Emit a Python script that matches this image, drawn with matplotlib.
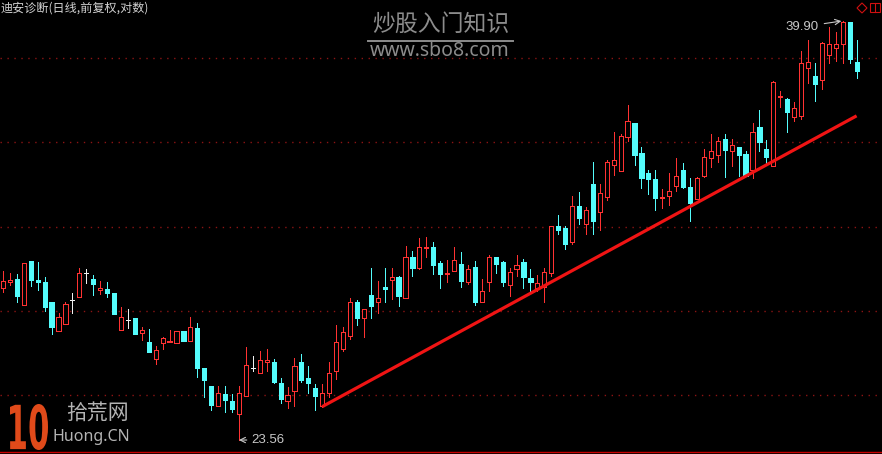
# -*- coding: utf-8 -*-

import matplotlib
matplotlib.use('Agg')
import matplotlib.pyplot as plt
from matplotlib.patches import Rectangle, Polygon
from matplotlib.lines import Line2D
from matplotlib.textpath import TextPath
from matplotlib.font_manager import FontProperties
from matplotlib.patches import PathPatch
import matplotlib.transforms as mtransforms

plt.rcParams['font.family'] = ['Noto Sans CJK SC', 'DejaVu Sans']

title = '迪安诊断(日线,前复权,对数)'

opens = [28.52, 28.74, 28.85, 27.93, 29.52, 28.82, 28.74, 28.01, 27.02, 27.25,
         28.11, 28.19, 29.07, 28.85, 28.45, 28.48, 28.34, 27.05, 27.38, 27.45,
         26.95, 26.65, 26.09, 26.62, 26.65, 26.62, 27.02, 26.69, 27.12, 25.80,
         25.20, 24.60, 24.97, 24.73, 24.33, 24.91, 25.80, 25.63, 25.99, 25.99,
         25.30, 24.73, 25.07, 25.99, 25.47, 25.14, 24.60, 25.00, 25.70, 26.42,
         26.85, 28.01, 27.45, 28.26, 28.01, 28.56, 28.82, 28.93, 28.15, 29.66,
         29.26, 29.99, 30.03, 29.44, 29.04, 29.15, 29.40, 28.74, 29.29, 28.01,
         28.74, 29.66, 29.48, 28.63, 29.22, 29.48, 28.89, 28.52, 28.56, 29.07,
         30.84, 30.77, 30.21, 31.62, 30.92, 32.52, 31.37, 31.99, 33.29, 33.05,
         34.50, 35.09, 33.78, 32.96, 32.72, 31.94, 32.03, 32.43, 33.09, 32.39,
         31.90, 32.84, 33.58, 33.70, 34.41, 33.90, 34.03, 33.74, 33.09, 34.91,
         33.98, 33.25, 36.27, 36.18, 35.36, 35.41, 37.59, 37.23, 37.05, 38.24,
         38.58, 38.78, 39.85, 37.91]
highs = [29.15, 29.07, 29.04, 29.44, 29.52, 29.48, 28.93, 28.04, 27.64, 28.01,
         28.34, 29.26, 29.22, 29.00, 28.78, 28.74, 28.34, 27.86, 27.78, 27.45,
         27.15, 27.08, 26.52, 26.82, 27.05, 27.02, 27.02, 27.51, 27.28, 25.80,
         25.20, 25.20, 25.20, 24.97, 25.20, 26.49, 26.19, 26.36, 26.42, 26.09,
         25.47, 25.17, 26.13, 26.26, 25.86, 25.27, 25.27, 25.99, 27.22, 27.15,
         28.15, 28.08, 27.78, 29.26, 28.78, 29.26, 29.26, 28.96, 30.07, 29.88,
         30.36, 30.40, 30.21, 29.52, 29.55, 30.03, 29.85, 29.37, 29.52, 28.85,
         29.74, 29.66, 29.52, 29.26, 29.74, 29.59, 29.22, 29.00, 29.26, 30.84,
         31.25, 30.84, 32.03, 32.19, 31.58, 33.41, 32.52, 33.49, 34.68, 34.59,
         35.91, 35.09, 34.03, 33.09, 33.09, 32.31, 32.96, 33.58, 33.37, 32.76,
         32.80, 33.98, 34.63, 34.50, 34.63, 34.41, 34.03, 33.86, 35.09, 35.68,
         34.36, 37.00, 36.54, 36.22, 36.04, 38.43, 38.97, 37.82, 38.87, 39.61,
         39.36, 39.90, 39.85, 38.97]
lows = [28.37, 28.63, 28.01, 27.93, 28.60, 28.45, 27.71, 26.92, 27.02, 27.25,
        27.64, 28.19, 28.71, 28.26, 28.30, 28.19, 27.61, 27.05, 27.12, 26.92,
        26.72, 26.32, 25.93, 26.42, 26.65, 26.62, 26.69, 26.69, 25.50, 24.88,
        24.48, 24.60, 24.39, 24.39, 23.56, 24.91, 25.70, 25.63, 25.70, 25.30,
        24.69, 24.54, 24.60, 25.33, 25.00, 24.48, 24.57, 24.88, 25.43, 26.36,
        26.75, 27.22, 26.82, 27.48, 27.64, 28.04, 28.12, 27.90, 28.15, 28.96,
        29.22, 29.66, 29.04, 28.52, 28.74, 29.15, 28.56, 28.67, 27.93, 28.01,
        28.41, 29.07, 28.60, 28.23, 28.96, 28.52, 28.37, 28.41, 28.04, 28.96,
        30.51, 29.96, 30.14, 30.92, 30.51, 30.51, 30.66, 31.86, 32.88, 33.05,
        34.31, 33.29, 32.35, 32.11, 31.45, 31.54, 31.66, 32.23, 32.35, 31.01,
        31.90, 32.80, 33.21, 33.41, 32.80, 33.25, 32.84, 32.84, 32.76, 33.86,
        33.37, 33.25, 35.82, 34.68, 35.18, 35.27, 36.91, 36.09, 36.64, 37.86,
        37.95, 37.86, 37.86, 37.13]
closes = [28.78, 28.82, 28.23, 29.44, 28.82, 28.74, 27.86, 27.15, 27.51, 27.97,
          28.11, 29.07, 29.07, 28.67, 28.52, 28.34, 27.61, 27.51, 27.38, 26.92,
          27.05, 26.32, 26.39, 26.79, 26.69, 27.02, 26.69, 27.15, 25.80, 25.40,
          24.63, 25.00, 24.79, 24.51, 25.00, 25.90, 25.80, 26.06, 26.06, 25.33,
          24.82, 24.94, 25.86, 25.40, 25.30, 24.91, 25.00, 25.63, 26.65, 26.98,
          28.01, 27.45, 27.78, 27.90, 28.15, 28.48, 28.93, 28.23, 29.66, 29.26,
          30.03, 30.03, 29.37, 29.04, 29.07, 29.55, 28.78, 29.22, 28.01, 28.41,
          29.66, 29.40, 28.74, 29.11, 29.37, 28.93, 28.74, 28.71, 29.11, 30.84,
          30.68, 30.14, 31.62, 31.13, 31.45, 31.01, 32.15, 33.41, 33.49, 34.54,
          35.18, 33.70, 32.76, 32.72, 31.94, 31.99, 32.23, 32.84, 32.39, 31.74,
          32.76, 33.62, 33.86, 34.32, 33.94, 34.15, 33.70, 32.84, 34.68, 34.27,
          33.62, 36.95, 36.32, 35.59, 35.77, 37.82, 37.91, 36.86, 38.82, 38.78,
          38.78, 39.85, 38.04, 37.45]

# support line from the low of the rally start to the last bar
trend_x = [46, 123]
trend_y = [24.57, 35.41]

hi_idx, hi_val = 121, 39.90
lo_idx, lo_val = 34, 23.56

RED = '#ff3232'
CYAN = '#54fcfc'
WHITE = '#f0f0f0'
GRID = '#8c1414'
LABEL = '#c8c8c8'
W, H = 882, 454
PX = 0.72  # one pixel in points


def fx(px):
    return px / W


def fy(py):
    return 1 - py / H


def draw_candles(ax, w=0.6):
    for i in range(len(opens)):
        o, h, l, c = opens[i], highs[i], lows[i], closes[i]
        if c > o:
            col, face = RED, 'black'
        elif c < o:
            col, face = CYAN, CYAN
        else:
            col, face = WHITE, WHITE
        ax.vlines(i, l, h, color=col, lw=PX, antialiased=False, zorder=2)
        if c == o:
            ax.hlines(o, i - w / 2, i + w / 2, color=col, lw=PX,
                      antialiased=False, zorder=3)
        else:
            ax.add_patch(Rectangle((i - w / 2, min(o, c)), w, abs(c - o),
                                   facecolor=face, edgecolor=col, lw=PX,
                                   antialiased=False, zorder=3))


fig = plt.figure(figsize=(W / 100, H / 100), dpi=100)
fig.patch.set_facecolor('black')
ax = fig.add_axes([0, 0, 1, 1])
ax.set_facecolor('black')
ax.set_yscale('log')
ax.set_xlim(-0.43, 126.66)
ax.set_ylim(23.15, 40.96)
ax.axis('off')

# dotted price grid, evenly spaced on the log scale
for k in range(5):
    f = 0.130 + k * 0.1855
    ax.plot([0, 1], [f, f], transform=ax.transAxes, color=GRID, lw=1.0,
            dashes=(1.0, 4.0), zorder=1)
ax.plot([0, 1], [fy(452), fy(452)], transform=ax.transAxes, color='#c80000',
        lw=1.0, zorder=1)

draw_candles(ax)

ax.plot(trend_x, trend_y, color='#f01414', lw=2.3, solid_capstyle='butt', zorder=5)

ax.annotate('%.2f' % hi_val, xy=(hi_idx, hi_val), xytext=(-24, -6),
            textcoords='offset pixels', ha='right', va='center',
            color=LABEL, fontsize=9.5, family='Liberation Sans',
            arrowprops=dict(arrowstyle='->', color=LABEL, lw=0.8,
                            shrinkA=2, shrinkB=1))
ax.annotate('%.2f' % lo_val, xy=(lo_idx, lo_val), xytext=(12, 0),
            textcoords='offset pixels', ha='left', va='center',
            color=LABEL, fontsize=9.5, family='Liberation Sans',
            arrowprops=dict(arrowstyle='->', color=LABEL, lw=0.8,
                            shrinkA=1, shrinkB=0))

fig.text(fx(1), fy(8), title, color='#d2d2d2', fontsize=8.7,
         ha='left', va='center')

# watermark
fig.text(fx(441), fy(24), '炒股入门知识', color='#8c8c8c', fontsize=16.5,
         ha='center', va='center')
fig.add_artist(Line2D([fx(368), fx(513)], [fy(41), fy(41)], color='#8c8c8c', lw=1.4))
fig.text(fx(440), fy(51), 'www.sbo8.com', color='#8c8c8c', fontsize=14,
         family='Noto Sans', ha='center', va='center')

# icons top right
fig.add_artist(Polygon([(fx(857), fy(8)), (fx(862), fy(3)), (fx(867), fy(8)),
                        (fx(862), fy(13))], closed=True, fill=False,
                       edgecolor='#d01010', lw=0.8))
fig.add_artist(Rectangle((fx(870), fy(12)), fx(10), 9 / H, fill=False,
                         edgecolor='#d01010', lw=0.8))
fig.add_artist(Line2D([fx(875), fx(875)], [fy(3), fy(12)], color='#d01010', lw=0.8))

# logo bottom left
tp = TextPath((0, 0), '10', size=1, prop=FontProperties(family='DejaVu Sans', weight='bold'))
ext = tp.get_extents()
sx = 38 / ext.width
sy = 46 / ext.height
tr = mtransforms.Affine2D().translate(-ext.x0, -ext.y0).scale(sx, sy).translate(10, H - 450)
fig.add_artist(PathPatch(tr.transform_path(tp), facecolor='#e04a1a', edgecolor='none',
                         transform=mtransforms.IdentityTransform()))
fig.text(fx(97), fy(413), '拾荒网', color='#b4b4b4', fontsize=15,
         ha='center', va='center')
fig.text(fx(91), fy(437), 'Huong.CN', color='#b4b4b4', fontsize=11.5,
         family='Noto Sans', ha='center', va='center')

fig.savefig('out.png', dpi=100, facecolor='black')
